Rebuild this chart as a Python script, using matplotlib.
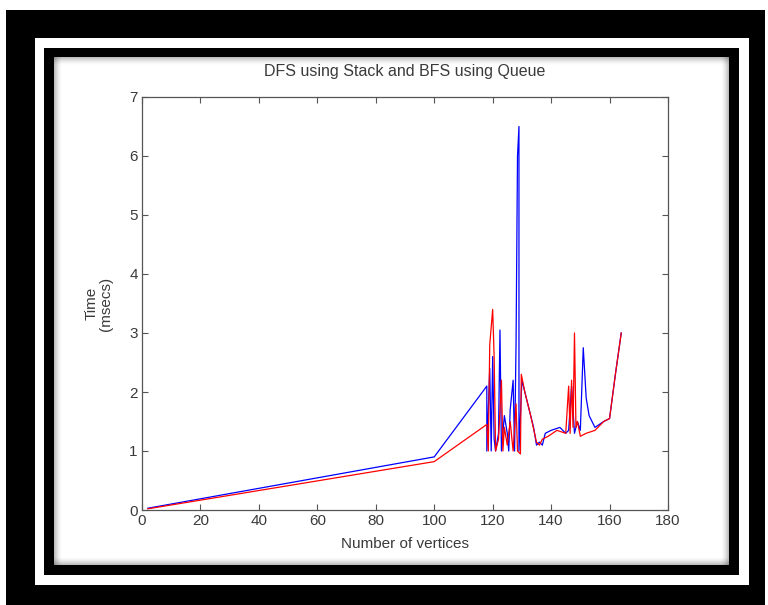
import matplotlib
matplotlib.use("Agg")
import matplotlib.pyplot as plt
from matplotlib.patches import Rectangle

# Timing measurements: number of vertices vs. time (msecs)
dfs_vertices = [2, 100, 118, 118, 119, 119.5, 120, 120.5, 121, 122, 122.5, 123, 124, 125,
                125.5, 126, 127, 127.5, 128, 128.5, 129, 129, 130, 132, 134, 135, 136, 137,
                138, 140, 143, 145, 146, 147, 148, 149, 150, 151, 152, 153, 155, 158, 160,
                162, 164]
dfs_time = [0.03, 0.90, 2.10, 1.00, 2.40, 1.00, 2.60, 1.20, 1.00, 1.30, 3.05, 1.00, 1.60, 1.30,
            1.00, 1.70, 2.20, 1.00, 2.80, 6.00, 6.50, 1.00, 2.20, 1.80, 1.40, 1.10, 1.15, 1.10,
            1.30, 1.35, 1.40, 1.30, 1.35, 2.10, 1.30, 1.50, 1.35, 2.75, 1.90, 1.60, 1.40, 1.50,
            1.55, 2.30, 3.00]

bfs_vertices = [2, 100, 118, 118.5, 119, 120, 120.5, 121, 122, 123, 123.5, 124, 125, 126, 127,
                128, 128.5, 129.5, 129.8, 131, 133, 135, 136, 137, 139, 142, 145, 146, 146.5,
                147, 147.5, 148, 148.5, 149, 150, 152, 155, 158, 160, 162, 164]
bfs_time = [0.02, 0.82, 1.45, 1.00, 2.80, 3.40, 2.60, 1.00, 1.20, 2.20, 1.00, 1.40, 1.10, 1.50,
            1.00, 1.80, 1.00, 0.95, 2.30, 2.00, 1.60, 1.15, 1.10, 1.20, 1.25, 1.35, 1.30, 2.10,
            1.30, 2.20, 1.40, 3.00, 1.40, 1.50, 1.25, 1.30, 1.35, 1.50, 1.55, 2.30, 3.00]

x_ticks = [0, 20, 40, 60, 80, 100, 120, 140, 160, 180]
y_ticks = [0, 1, 2, 3, 4, 5, 6, 7]

W, H = 768, 605
fig = plt.figure(figsize=(W / 100, H / 100), dpi=100)
fig.patch.set_facecolor("white")


def frame_rect(x0, y0, x1, y1, color, **kw):
    """Rectangle given in pixel coordinates measured from the top-left corner."""
    r = Rectangle((x0 / W, 1 - y1 / H), (x1 - x0) / W, (y1 - y0) / H,
                  transform=fig.transFigure, facecolor=color, edgecolor="none", **kw)
    fig.patches.append(r)
    return r


# Picture frame: black outer border, white mat, black inner border, white panel
frame_rect(6, 10, 765, 605, "black", zorder=-10)
frame_rect(35, 38, 749, 585, "white", zorder=-9)
frame_rect(44, 48, 739, 575, "black", zorder=-8)
frame_rect(54, 57, 729, 565, "white", zorder=-7)
# soft inner shadow along the panel edges
for i in range(8):
    a = 0.12 * (1 - i / 8)
    frame_rect(54, 57, 729, 57 + (i + 1), "black", zorder=-6, alpha=a / 2)
    frame_rect(54, 57, 54 + (i + 1), 565, "black", zorder=-6, alpha=a / 2)
    frame_rect(54, 565 - (i + 1), 729, 565, "black", zorder=-6, alpha=a / 2)
    frame_rect(729 - (i + 1), 57, 729, 565, "black", zorder=-6, alpha=a / 2)

text_color = "#3a3a3a"
axis_color = "#555555"
font = ["Liberation Sans Narrow", "Liberation Sans", "DejaVu Sans"]

ax_l, ax_r, ax_t, ax_b = 142, 668, 97, 510
ax = fig.add_axes([ax_l / W, 1 - ax_b / H, (ax_r - ax_l) / W, (ax_b - ax_t) / H])
ax.set_facecolor("white")

ax.plot(dfs_vertices, dfs_time, color="#0000ff", lw=0.9)
ax.plot(bfs_vertices, bfs_time, color="#ff0000", lw=0.9)

ax.set_xlim(0, 180)
ax.set_ylim(0, 7)
ax.set_xticks(x_ticks)
ax.set_yticks(y_ticks)
ax.tick_params(direction="in", length=4, width=0.8, colors=axis_color,
               labelcolor=text_color, top=True, right=True, labelsize=11, pad=3)
for lab in ax.get_xticklabels() + ax.get_yticklabels():
    lab.set_family(font)
for s in ax.spines.values():
    s.set_color(axis_color)
    s.set_linewidth(0.9)

ax.set_title("DFS using Stack and BFS using Queue", fontsize=11.5, color=text_color,
             family=font, pad=15)
ax.set_xlabel("Number of vertices", fontsize=11, color=text_color, family=font, labelpad=6)
ax.set_ylabel("Time\n(msecs)", fontsize=11, color=text_color, family=font, labelpad=12,
              linespacing=1.0)

fig.savefig("out.png", dpi=100, facecolor=fig.get_facecolor())
